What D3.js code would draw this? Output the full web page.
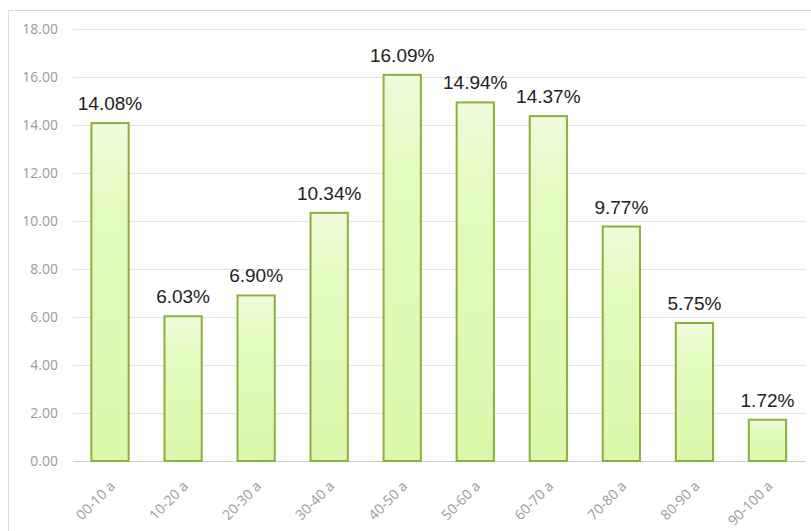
<!DOCTYPE html>
<html>
<head>
<meta charset="utf-8">
<script src="https://cdn.jsdelivr.net/npm/d3@7"></script>
<style>
  html, body { margin: 0; padding: 0; background: #fff; }
  svg { display: block; }
</style>
</head>
<body>
<svg id="chart" width="811" height="531"></svg>
<script>
// Age bands and their share of the total (%)
const categories = ["00-10 a", "10-20 a", "20-30 a", "30-40 a", "40-50 a",
                    "50-60 a", "60-70 a", "70-80 a", "80-90 a", "90-100 a"];
const values = [14.08, 6.03, 6.90, 10.34, 16.09, 14.94, 14.37, 9.77, 5.75, 1.72];
const yTicks = [0, 2, 4, 6, 8, 10, 12, 14, 16, 18];

const svg = d3.select("#chart");
const W = 811, H = 531;
const margin = { top: 29, right: 7, bottom: 70, left: 73.5 };

// Outer chart frame
svg.append("rect")
  .attr("x", 8.5).attr("y", 10.5)
  .attr("width", W).attr("height", H)
  .attr("fill", "none").attr("stroke", "#d9d9d9").attr("stroke-width", 1);

const x = d3.scaleBand()
  .domain(categories)
  .range([margin.left, W - margin.right])
  .paddingInner(0.49).paddingOuter(0.245);

const y = d3.scaleLinear()
  .domain([0, 18])
  .range([461, margin.top]);

// Soft green fill for the bars
const defs = svg.append("defs");
const grad = defs.append("linearGradient")
  .attr("id", "barFill").attr("x1", 0).attr("y1", 0).attr("x2", 0).attr("y2", 1);
grad.append("stop").attr("offset", "0%").attr("stop-color", "#effcdc");
grad.append("stop").attr("offset", "25%").attr("stop-color", "#e4fbc0");
grad.append("stop").attr("offset", "100%").attr("stop-color", "#daf8aa");

// Horizontal gridlines
svg.append("g")
  .selectAll("line")
  .data(yTicks)
  .join("line")
  .attr("x1", margin.left).attr("x2", W - margin.right + 2)
  .attr("y1", d => Math.round(y(d)) + 0.5).attr("y2", d => Math.round(y(d)) + 0.5)
  .attr("stroke", d => d === 0 ? "#d0d0d0" : "#e3e3e3")
  .attr("stroke-width", 1);

// Y axis tick labels
const yAxis = d3.axisLeft(y).tickValues(yTicks)
  .tickFormat(d3.format(".2f")).tickSize(0).tickPadding(0);
const yg = svg.append("g")
  .attr("transform", `translate(58,0)`)
  .call(yAxis);
yg.select(".domain").remove();
yg.selectAll("text")
  .attr("fill", "#9a9a9a")
  .attr("font-family", "'Open Sans', 'Liberation Sans', sans-serif")
  .attr("font-size", 14);

// Bars
svg.append("g")
  .selectAll("rect")
  .data(values)
  .join("rect")
  .attr("x", (d, i) => x(categories[i]))
  .attr("y", d => y(d))
  .attr("width", x.bandwidth())
  .attr("height", d => y(0) - y(d))
  .attr("fill", "url(#barFill)")
  .attr("stroke", "#8cb03a")
  .attr("stroke-width", 2);

// Value labels above bars
svg.append("g")
  .selectAll("text")
  .data(values)
  .join("text")
  .attr("x", (d, i) => x(categories[i]) + x.bandwidth() / 2)
  .attr("y", d => y(d) - 13)
  .attr("text-anchor", "middle")
  .attr("fill", "#222")
  .attr("font-family", "'Liberation Sans', Arial, sans-serif")
  .attr("font-size", 19)
  .text(d => d.toFixed(2) + "%");

// X axis category labels, rotated
const xAxis = d3.axisBottom(x).tickSize(0).tickPadding(0);
const xg = svg.append("g")
  .attr("transform", `translate(0,${y(0)})`)
  .call(xAxis);
xg.select(".domain").remove();
xg.selectAll("text")
  .attr("fill", "#9a9a9a")
  .attr("font-family", "'Open Sans', 'Liberation Sans', sans-serif")
  .attr("font-size", 14)
  .attr("text-anchor", "end")
  .attr("dy", 0)
  .attr("transform", "translate(6,26) rotate(-45)");
</script>
</body>
</html>
